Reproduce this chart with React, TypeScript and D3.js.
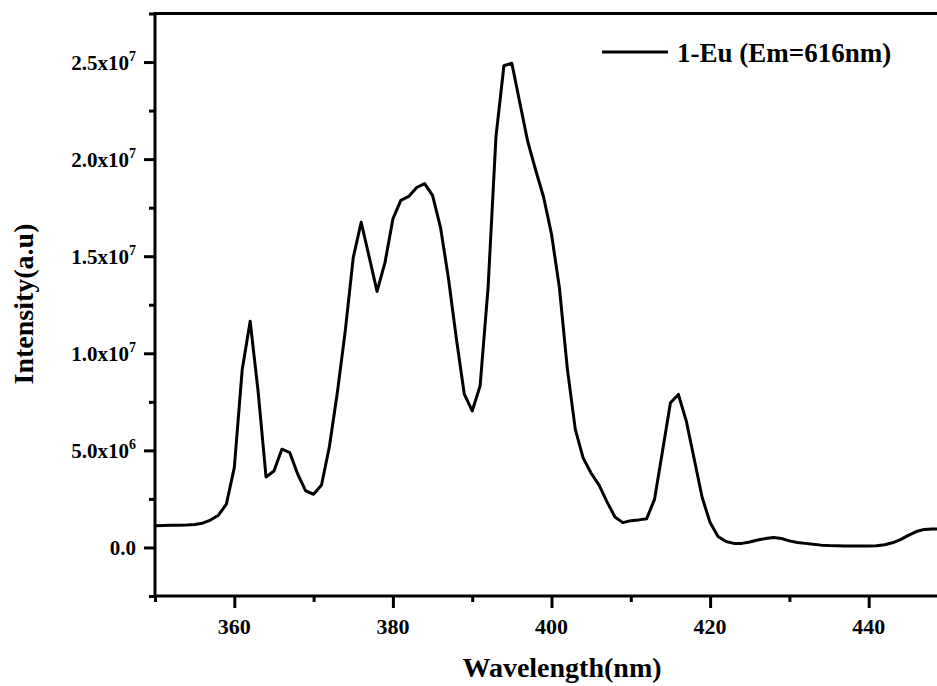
import React, { useEffect, useRef } from 'react';
import * as d3 from 'd3';

// excitation spectrum, intensity in units of 10^6
const wavelengths = [
    350, 351, 352, 353, 354, 355, 356, 357, 358, 359,
    360, 361, 362, 363, 364, 365, 366, 367, 368, 369,
    370, 371, 372, 373, 374, 375, 376, 377, 378, 379,
    380, 381, 382, 383, 384, 385, 386, 387, 388, 389,
    390, 391, 392, 393, 394, 395, 396, 397, 398, 399,
    400, 401, 402, 403, 404, 405, 406, 407, 408, 409,
    410, 411, 412, 413, 414, 415, 416, 417, 418, 419,
    420, 421, 422, 423, 424, 425, 426, 427, 428, 429,
    430, 431, 432, 433, 434, 435, 436, 437, 438, 439,
    440, 441, 442, 443, 444, 445, 446, 447, 448, 449,
];

const intensity = [
    1.12, 1.13, 1.14, 1.15, 1.16, 1.18, 1.25, 1.41, 1.66, 2.23,
    4.11, 9.17, 11.65, 8.05, 3.63, 3.94, 5.06, 4.88, 3.77, 2.91,
    2.74, 3.22, 5.21, 7.99, 11.18, 14.93, 16.75, 14.98, 13.19, 14.67,
    16.92, 17.88, 18.08, 18.54, 18.74, 18.13, 16.49, 13.88, 10.76, 7.9,
    7.03, 8.33, 13.37, 21.17, 24.81, 24.94, 22.92, 20.91, 19.44, 18.05,
    16.14, 13.37, 9.2, 6.08, 4.6, 3.82, 3.21, 2.35, 1.57, 1.28,
    1.38, 1.42, 1.48, 2.49, 4.97, 7.45, 7.88, 6.51, 4.54, 2.57,
    1.28, 0.57, 0.31, 0.21, 0.21, 0.28, 0.38, 0.46, 0.51, 0.46,
    0.34, 0.26, 0.21, 0.16, 0.12, 0.1, 0.09, 0.08, 0.08, 0.08,
    0.08, 0.09, 0.14, 0.24, 0.4, 0.62, 0.82, 0.93, 0.95, 0.96,
];

const xMajorTicks = [360, 380, 400, 420, 440];
const xMinorTicks = [350, 370, 390, 410, 430, 450];
const yMajorTicks = [0, 5, 10, 15, 20, 25];
const yMinorTicks = [-2.5, 2.5, 7.5, 12.5, 17.5, 22.5, 27.5];
const yTickMantissa = ['0.0', '5.0x10', '1.0x10', '1.5x10', '2.0x10', '2.5x10'];
const yTickExponent = ['', '6', '7', '7', '7', '7'];

const seriesName = '1-Eu (Em=616nm)';
const xTitle = 'Wavelength(nm)';
const yTitle = 'Intensity(a.u)';

const WIDTH = 937;
const HEIGHT = 686;
const FONT = '"Times New Roman", "Liberation Serif", serif';

const App = () => {
    const svgRef = useRef(null);

    useEffect(() => {
        const svg = d3.select(svgRef.current);
        svg.selectAll('*').remove();

        const left = 155;
        const right = 948;
        const top = 13.5;
        const bottom = 596;

        const x = d3.scaleLinear().domain([350, 450]).range([left, right]);
        const y = d3.scaleLinear().domain([-2.5, 27.5]).range([bottom, top]);

        // frame
        svg.append('rect')
            .attr('x', left)
            .attr('y', top)
            .attr('width', right - left)
            .attr('height', bottom - top)
            .attr('fill', 'none')
            .attr('stroke', '#000')
            .attr('stroke-width', 3);

        // x ticks
        const xMajor = svg.append('g')
            .attr('transform', `translate(0,${bottom})`)
            .call(d3.axisBottom(x).tickValues(xMajorTicks).tickSize(12).tickFormat(''));
        const xMinor = svg.append('g')
            .attr('transform', `translate(0,${bottom})`)
            .call(d3.axisBottom(x).tickValues(xMinorTicks).tickSize(6).tickFormat(''));

        // y ticks
        const yMajor = svg.append('g')
            .attr('transform', `translate(${left},0)`)
            .call(d3.axisLeft(y).tickValues(yMajorTicks).tickSize(11).tickFormat(''));
        const yMinor = svg.append('g')
            .attr('transform', `translate(${left},0)`)
            .call(d3.axisLeft(y).tickValues(yMinorTicks).tickSize(6).tickFormat(''));

        [xMajor, xMinor, yMajor, yMinor].forEach(g => {
            g.select('.domain').remove();
            g.selectAll('line').attr('stroke', '#000').attr('stroke-width', 3);
        });

        // x tick labels
        svg.append('g')
            .selectAll('text')
            .data(xMajorTicks)
            .join('text')
            .attr('x', d => x(d))
            .attr('y', 634)
            .attr('text-anchor', 'middle')
            .style('font-family', FONT)
            .style('font-weight', 'bold')
            .style('font-size', '22px')
            .text(d => d);

        // y tick labels with superscript exponent
        const yLabels = svg.append('g')
            .selectAll('text')
            .data(yMajorTicks)
            .join('text')
            .attr('x', 136)
            .attr('y', d => y(d) + 8)
            .attr('text-anchor', 'end')
            .style('font-family', FONT)
            .style('font-weight', 'bold')
            .style('font-size', '21px');
        yLabels.append('tspan').text((d, i) => yTickMantissa[i]);
        yLabels.filter((d, i) => yTickExponent[i] !== '')
            .append('tspan')
            .attr('dy', -9)
            .style('font-size', '14px')
            .text(d => yTickExponent[yMajorTicks.indexOf(d)]);

        // axis titles
        svg.append('text')
            .attr('x', 562)
            .attr('y', 677)
            .attr('text-anchor', 'middle')
            .style('font-family', FONT)
            .style('font-weight', 'bold')
            .style('font-size', '28px')
            .text(xTitle);

        svg.append('text')
            .attr('transform', 'translate(33,304) rotate(-90)')
            .attr('text-anchor', 'middle')
            .style('font-family', FONT)
            .style('font-weight', 'bold')
            .style('font-size', '28px')
            .text(yTitle);

        // spectrum line
        const points = wavelengths.map((w, i) => [w, intensity[i]]);
        const line = d3.line()
            .x(d => x(d[0]))
            .y(d => y(d[1]));

        svg.append('path')
            .datum(points)
            .attr('d', line)
            .attr('fill', 'none')
            .attr('stroke', '#000')
            .attr('stroke-width', 3)
            .attr('stroke-linejoin', 'round');

        // legend
        svg.append('line')
            .attr('x1', 602)
            .attr('x2', 668)
            .attr('y1', 52)
            .attr('y2', 52)
            .attr('stroke', '#000')
            .attr('stroke-width', 3);

        svg.append('text')
            .attr('x', 677)
            .attr('y', 61.5)
            .style('font-family', FONT)
            .style('font-weight', 'bold')
            .style('font-size', '27px')
            .text(seriesName);
    }, []);

    return (
        <svg
            ref={svgRef}
            width={WIDTH}
            height={HEIGHT}
            style={{ position: 'absolute', left: 0, top: 0, background: '#fff' }}
        />
    );
};

export default App;
